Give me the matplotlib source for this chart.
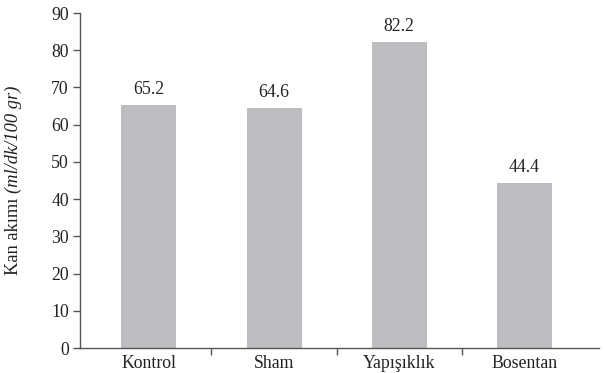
import matplotlib
matplotlib.use("Agg")
import matplotlib.pyplot as plt
from matplotlib.transforms import offset_copy

categories = ["Kontrol", "Sham", "Yapışıklık", "Bosentan"]
values = [65.2, 64.6, 82.2, 44.4]
value_labels = ["65.2", "64.6", "82.2", "44.4"]
y_ticks = [0, 10, 20, 30, 40, 50, 60, 70, 80, 90]

plt.rcParams["font.family"] = "serif"
plt.rcParams["font.serif"] = ["Liberation Serif", "DejaVu Serif"]

axis_col = "#555555"
text_col = "#222222"
fs = 12.8

fig = plt.figure(figsize=(6.04, 3.73), dpi=100)
ax = fig.add_axes([0.1325, 0.067, 0.86, 0.898])

x = list(range(len(categories)))
ax.bar(x, values, width=0.44, color="#bcbdc0", zorder=2)

for xi, v, lab in zip(x, values, value_labels):
    ax.annotate(lab, (xi, v), xytext=(0, 5), textcoords="offset points",
                ha="center", va="bottom", fontsize=fs, color=text_col)

ax.set_xlim(-0.55, 3.6)
ax.set_ylim(0, 90)
ax.set_yticks(y_ticks)
ax.set_yticklabels([str(t) for t in y_ticks])

# category labels at bar centres, tick marks at category boundaries
ax.set_xticks(x)
ax.set_xticklabels(categories)
ax.tick_params(axis="x", which="major", length=0, pad=5, labelsize=fs, labelcolor=text_col)
ax.set_xticks([0.5, 1.5, 2.5], minor=True)
ax.tick_params(axis="x", which="minor", length=5, width=1, color=axis_col, direction="out")
ax.tick_params(axis="y", length=5, width=1, color=axis_col, direction="out",
               labelsize=fs, labelcolor=text_col, pad=3)

for side in ("top", "right"):
    ax.spines[side].set_visible(False)
for side in ("left", "bottom"):
    ax.spines[side].set_color(axis_col)
    ax.spines[side].set_linewidth(1)

# y-axis title: upright part followed by an italic unit part
label_x = 0.022
label_y0 = 0.262
lfs = 13.3
t1 = fig.text(label_x, label_y0, "Kan akımı ", rotation=90, ha="center", va="bottom",
              fontsize=lfs, color=text_col)
fig.canvas.draw()
bb = t1.get_window_extent(renderer=fig.canvas.get_renderer())
fig.text(label_x, 0, "(ml/dk/100 gr)", rotation=90, ha="center", va="bottom",
         fontsize=lfs, color=text_col, style="italic",
         transform=offset_copy(fig.transFigure, fig=fig, x=0, y=bb.y1, units="dots"))

fig.savefig("out.png", dpi=100)
